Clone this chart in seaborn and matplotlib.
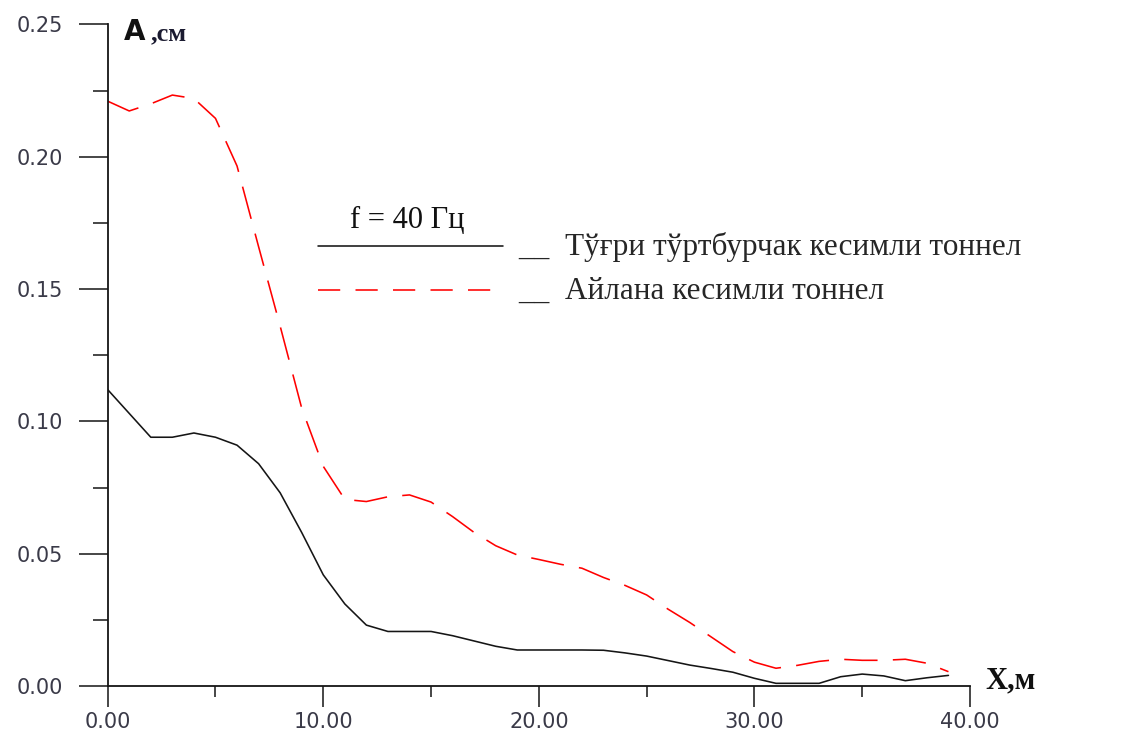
import matplotlib
matplotlib.use("Agg")
import matplotlib.pyplot as plt
import seaborn as sns
import pandas as pd
from matplotlib.ticker import MultipleLocator, FormatStrFormatter

# Odległość od tunelu X, m (odczytane co 1 m)
x_m = list(range(40))

# Amplituda A, cm - tunel prostokątny (czarna linia ciągła)
amp_rect = [0.112, 0.103, 0.094, 0.094, 0.0956, 0.094, 0.091, 0.084, 0.073, 0.058,
            0.042, 0.031, 0.023, 0.0206, 0.0206, 0.0206, 0.019, 0.017, 0.015, 0.0136,
            0.0136, 0.0136, 0.0136, 0.0135, 0.0125, 0.0113, 0.0096, 0.0079, 0.0066, 0.0052,
            0.0029, 0.001, 0.001, 0.001, 0.0035, 0.0045, 0.0038, 0.002, 0.0031, 0.004]

# Amplituda A, cm - tunel kołowy (czerwona linia przerywana)
amp_circ = [0.221, 0.2173, 0.220, 0.2233, 0.222, 0.2145, 0.1965, 0.166, 0.136, 0.105,
            0.083, 0.0705, 0.0697, 0.0715, 0.0722, 0.0695, 0.064, 0.058, 0.053, 0.0495,
            0.0478, 0.046, 0.0445, 0.041, 0.038, 0.0344, 0.029, 0.024, 0.0185, 0.013,
            0.009, 0.0067, 0.0078, 0.0093, 0.0101, 0.0097, 0.0097, 0.0101, 0.0086, 0.0054]

freq_text = "f = 40 Гц"
label_rect = "__  Тўғри тўртбурчак кесимли тоннел"
label_circ = "__  Айлана кесимли тоннел"

sns.set_style("ticks")
plt.rcParams["font.family"] = ["DejaVu Sans"]
plt.rcParams["lines.scale_dashes"] = False
serif = ["Liberation Serif", "DejaVu Serif"]

df = pd.DataFrame({"x": x_m, "rect": amp_rect, "circ": amp_circ})

fig = plt.figure(figsize=(11.24, 7.4), dpi=100)
ax = fig.add_axes([0.0958, 0.073, 0.7672, 0.894])

sns.lineplot(data=df, x="x", y="rect", ax=ax, color="#151515", lw=1.15, label="rect")
sns.lineplot(data=df, x="x", y="circ", ax=ax, color="#ff0000", lw=1.15,
             linestyle=(0, (24, 11)), label="circ")

ax.set_xlim(0, 40)
ax.set_ylim(0, 0.25)
ax.set_xlabel("")
ax.set_ylabel("")
ax.xaxis.set_major_locator(MultipleLocator(10))
ax.xaxis.set_minor_locator(MultipleLocator(5))
ax.yaxis.set_major_locator(MultipleLocator(0.05))
ax.yaxis.set_minor_locator(MultipleLocator(0.025))
ax.xaxis.set_major_formatter(FormatStrFormatter("%.2f"))
ax.yaxis.set_major_formatter(FormatStrFormatter("%.2f"))

tick_col = "#3a3a48"
ax.tick_params(axis="y", which="major", direction="out", length=21, width=1.1,
               pad=11, labelsize=15, labelcolor=tick_col, color="#151515")
ax.tick_params(axis="y", which="minor", direction="out", length=11, width=1.1, color="#151515")
ax.tick_params(axis="x", which="major", direction="out", length=15, width=1.1,
               pad=4, labelsize=15, labelcolor=tick_col, color="#151515")
ax.tick_params(axis="x", which="minor", direction="out", length=8, width=1.1, color="#151515")

sns.despine(ax=ax)
for s in ["left", "bottom"]:
    ax.spines[s].set_linewidth(1.3)
    ax.spines[s].set_color("#151515")

# opisy osi
ax.text(0.76, 0.244, "A", fontsize=20, weight="bold", color="#111111", va="baseline")
ax.text(2.0, 0.244, ",см", fontsize=19, family=serif, weight="bold", color="#1a1a30", va="baseline")
ax.text(40.7, -0.0008, "X,м", fontsize=22, family=serif, weight="bold", color="#111111",
        va="baseline", clip_on=False)

# legenda
ax.text(11.24, 0.1729, freq_text, fontsize=22, family=serif, color="#111111", va="baseline")
lines = ax.get_lines()[:2]
leg = ax.legend(lines, [label_rect, label_circ], loc="upper left",
                bbox_to_anchor=(318 / 1124, 1 - 232 / 740),
                bbox_transform=fig.transFigure, frameon=False, borderpad=0, borderaxespad=0,
                handlelength=5.92, handletextpad=0.5, handleheight=0.2, labelspacing=0.47,
                prop={"family": serif, "size": 22.5})
leg.get_lines()[1].set_linestyle((0, (16, 11)))

fig.savefig("out.png", dpi=100)
